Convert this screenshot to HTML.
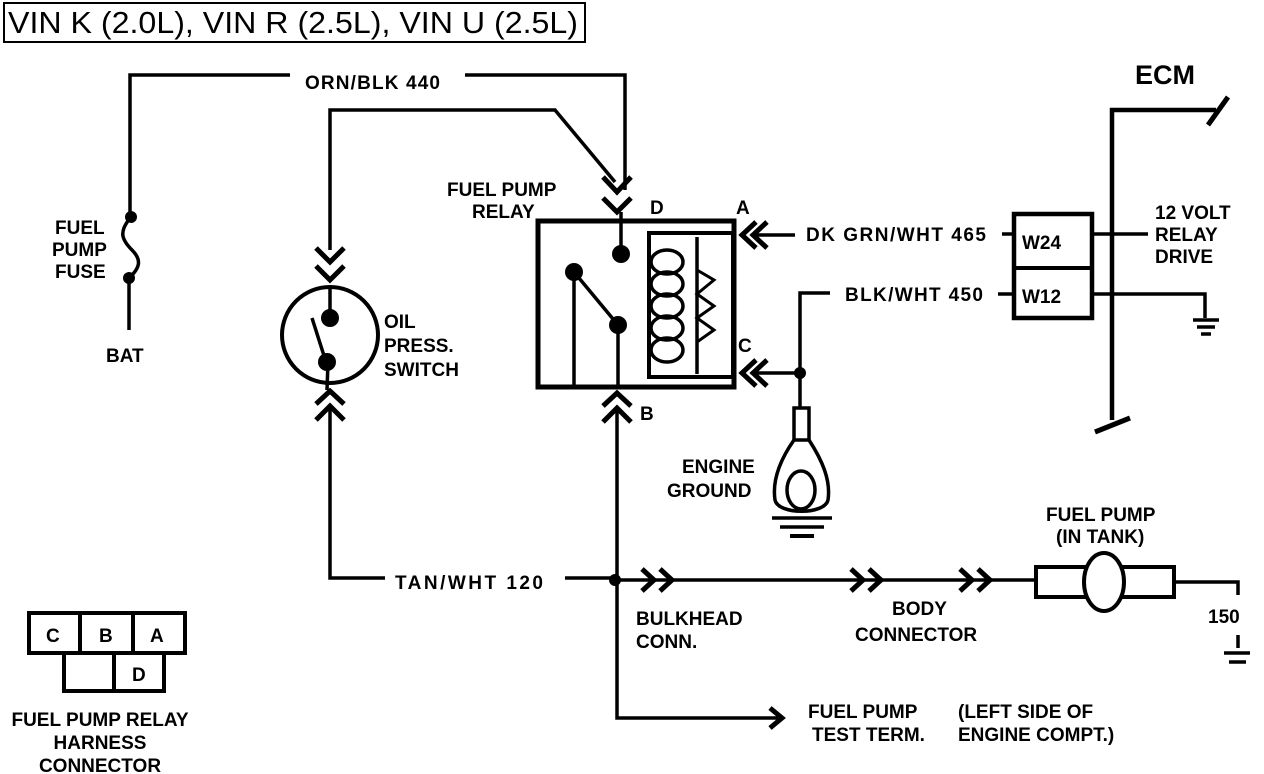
<!DOCTYPE html>
<html><head><meta charset="utf-8"><style>
html,body{margin:0;padding:0;background:#fff;}
svg{display:block;}
text{font-family:"Liberation Sans",sans-serif;font-weight:bold;fill:#000;}
</style></head><body>
<svg width="1264" height="774" viewBox="0 0 1264 774" xmlns="http://www.w3.org/2000/svg">
<rect x="0" y="0" width="1264" height="774" fill="#fff"/>
<rect x="4" y="3" width="581" height="39" fill="none" stroke="#000" stroke-width="2"/>
<text x="8" y="33" style="font-weight:normal" font-size="31" textLength="570" lengthAdjust="spacingAndGlyphs">VIN K (2.0L), VIN R (2.5L), VIN U (2.5L)</text>

<g fill="none" stroke="#000" stroke-width="3.5">
<polyline points="130,217 130,75 290,75"/>
<polyline points="465,75 625,75 625,190"/>
<path d="M131,217 C118,232 122,240 132,250 C142,260 140,268 129,278"/>
<line x1="129" y1="278" x2="129" y2="330"/>
<polyline points="330,250 330,110 555,110 615,182"/>
<g stroke-width="5">
<polyline points="603,177 617,192 631,177"/>
<polyline points="603,198 617,212 631,198"/>
<polyline points="316,248 330,262 344,248"/>
<polyline points="316,266 330,280 344,266"/>
<polyline points="316,404 330,391 344,404"/>
<polyline points="316,420 330,406 344,420"/>
<polyline points="603,406 617,393 631,406"/>
<polyline points="603,422 617,408 631,422"/>
<polyline points="756,222 742,235 756,248"/>
<polyline points="767,222 753,235 767,248"/>
<polyline points="756,360 742,373 756,386"/>
<polyline points="767,360 753,373 767,386"/>
<polyline points="770,708 782,718 770,728"/>
<polyline points="642,569 654,580 642,591"/>
<polyline points="660,569 672,580 660,591"/>
<polyline points="851,569 863,580 851,591"/>
<polyline points="869,569 881,580 869,591"/>
<polyline points="960,569 972,580 960,591"/>
<polyline points="978,569 990,580 978,591"/>
</g>
<circle cx="330" cy="335" r="48" stroke-width="4"/>
<line x1="330" y1="287" x2="330" y2="315"/>
<line x1="312" y1="318" x2="326" y2="362"/>
<line x1="328" y1="362" x2="327" y2="390"/>
<polyline points="330,406 330,578 385,578"/>
<polyline points="565,578 615,578"/>
<rect x="538" y="221" width="196" height="166" stroke-width="5"/>
<rect x="649" y="233" width="84" height="144" stroke-width="4"/>
<line x1="621" y1="212" x2="621" y2="254"/>
<line x1="574" y1="272" x2="574" y2="387"/>
<line x1="574" y1="272" x2="618" y2="325"/>
<line x1="618" y1="325" x2="618" y2="387"/>
<line x1="697" y1="237" x2="697" y2="374"/>
<polyline points="697,270 714,280 697,294 714,306 697,318 714,330 697,342" stroke-width="3"/>
<ellipse cx="667" cy="262" rx="16" ry="12"/>
<ellipse cx="667" cy="284" rx="16" ry="12"/>
<ellipse cx="667" cy="306" rx="16" ry="12"/>
<ellipse cx="667" cy="328" rx="16" ry="12"/>
<ellipse cx="667" cy="350" rx="16" ry="12"/>
<polyline points="617,408 617,718 778,718"/>
<line x1="752" y1="235" x2="795" y2="235"/>
<line x1="752" y1="373" x2="800" y2="373"/>
<polyline points="830,293 800,293 800,408"/>
<rect x="794" y="408" width="15" height="32"/>
<path d="M794,440 C780,460 772,480 775,500 C778,515 825,515 828,500 C831,480 822,460 809,440"/>
<ellipse cx="801" cy="490" rx="14" ry="19"/>
<line x1="772" y1="518" x2="832" y2="518"/>
<line x1="780" y1="527" x2="824" y2="527"/>
<line x1="790" y1="536" x2="814" y2="536" stroke-width="4"/>
<rect x="1014" y="214" width="78" height="104" stroke-width="4.5"/>
<line x1="1014" y1="268" x2="1092" y2="268" stroke-width="4"/>
<line x1="1002" y1="234" x2="1014" y2="234"/>
<line x1="998" y1="294" x2="1014" y2="294"/>
<line x1="1092" y1="234" x2="1148" y2="234"/>
<polyline points="1092,294 1205,294 1205,318"/>
<line x1="1193" y1="320" x2="1219" y2="320"/>
<line x1="1197" y1="327" x2="1215" y2="327"/>
<line x1="1201" y1="334" x2="1211" y2="334"/>
<polyline points="1112,420 1112,110 1216,110" stroke-width="4.5"/>
<line x1="1208" y1="125" x2="1228" y2="97" stroke-width="5"/>
<line x1="1095" y1="432" x2="1130" y2="418" stroke-width="5"/>
<line x1="615" y1="580" x2="1035" y2="580"/>
<rect x="1036" y="567" width="138" height="30" stroke-width="4"/>
<ellipse cx="1104" cy="582" rx="20" ry="29" fill="#fff" stroke-width="4"/>
<polyline points="1174,582 1238,582 1238,595"/>
<line x1="1238" y1="635" x2="1238" y2="648"/>
<line x1="1224" y1="653" x2="1250" y2="653"/>
<line x1="1229" y1="662" x2="1246" y2="662"/>
<g stroke-width="4">
<rect x="29" y="613" width="156" height="40"/>
<line x1="80" y1="613" x2="80" y2="653"/>
<line x1="133" y1="613" x2="133" y2="653"/>
<rect x="64" y="653" width="100" height="38"/>
<line x1="114" y1="653" x2="114" y2="691"/>
</g>
</g>
<g fill="#000">
<circle cx="131" cy="217" r="6"/><circle cx="129" cy="278" r="6"/>
<circle cx="330" cy="318" r="9"/><circle cx="327" cy="362" r="9"/>
<circle cx="621" cy="254" r="9"/><circle cx="574" cy="272" r="9"/><circle cx="618" cy="325" r="9"/>
<circle cx="800" cy="373" r="6"/><circle cx="615" cy="580" r="6"/>
</g>
<g font-size="19">
<text x="305" y="89" textLength="135">ORN/BLK 440</text>
<text x="55" y="234">FUEL</text><text x="52" y="256">PUMP</text><text x="55" y="278">FUSE</text>
<text x="106" y="362">BAT</text>
<text x="447" y="196">FUEL PUMP</text><text x="472" y="218">RELAY</text>
<text x="650" y="214">D</text><text x="736" y="214">A</text><text x="738" y="352">C</text><text x="640" y="420">B</text>
<text x="384" y="328">OIL</text><text x="384" y="352">PRESS.</text><text x="384" y="376">SWITCH</text>
<text x="806" y="241" textLength="180">DK GRN/WHT 465</text>
<text x="845" y="301" textLength="138">BLK/WHT 450</text>
<text x="1022" y="249">W24</text><text x="1022" y="303">W12</text>
<text x="1155" y="219">12 VOLT</text><text x="1155" y="241">RELAY</text><text x="1155" y="263">DRIVE</text>
<text x="1135" y="84" font-size="27">ECM</text>
<text x="682" y="473">ENGINE</text><text x="667" y="497">GROUND</text>
<text x="1046" y="521">FUEL PUMP</text><text x="1056" y="543">(IN TANK)</text>
<text x="395" y="589" textLength="148">TAN/WHT 120</text>
<text x="636" y="625">BULKHEAD</text><text x="636" y="648">CONN.</text>
<text x="892" y="615">BODY</text><text x="855" y="641">CONNECTOR</text>
<text x="1208" y="623">150</text>
<text x="808" y="718">FUEL PUMP</text><text x="812" y="741">TEST TERM.</text>
<text x="958" y="718">(LEFT SIDE OF</text><text x="958" y="741">ENGINE COMPT.)</text>
<text x="46" y="642">C</text><text x="99" y="642">B</text><text x="150" y="642">A</text><text x="132" y="681">D</text>
<text x="100" y="726" text-anchor="middle">FUEL PUMP RELAY</text>
<text x="100" y="749" text-anchor="middle">HARNESS</text>
<text x="100" y="772" text-anchor="middle">CONNECTOR</text>
</g>
</svg>
</body></html>
